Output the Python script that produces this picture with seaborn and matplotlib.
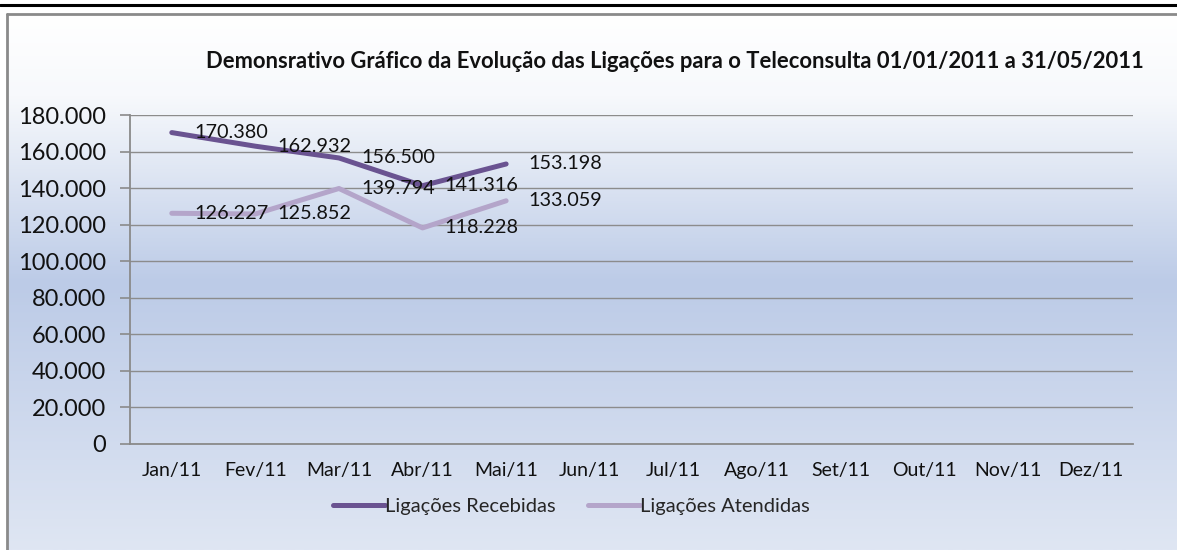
import numpy as np
import pandas as pd
import matplotlib.pyplot as plt
import seaborn as sns
from matplotlib.colors import LinearSegmentedColormap
from matplotlib.lines import Line2D

months = ["Jan/11", "Fev/11", "Mar/11", "Abr/11", "Mai/11", "Jun/11",
          "Jul/11", "Ago/11", "Set/11", "Out/11", "Nov/11", "Dez/11"]
recebidas = [170380, 162932, 156500, 141316, 153198]
atendidas = [126227, 125852, 139794, 118228, 133059]
series_names = ["Ligações Recebidas", "Ligações Atendidas"]
yticks = list(range(0, 180001, 20000))
title = "Demonsrativo Gráfico da Evolução das Ligações para o Teleconsulta 01/01/2011 a 31/05/2011"

df = pd.DataFrame({
    "mes": list(range(len(recebidas))) + list(range(len(atendidas))),
    "valor": recebidas + atendidas,
    "serie": [series_names[0]] * len(recebidas) + [series_names[1]] * len(atendidas),
})

def fmt(v):
    return f"{v:,}".replace(",", ".")

sns.set_theme(style="white")
plt.rcParams["font.family"] = ["Lato", "DejaVu Sans"]
txt = "#111111"

W, H = 1177, 550
fig = plt.figure(figsize=(W / 100, H / 100), dpi=100)

# gradient background of the chart box
bg = fig.add_axes([8 / W, 0, 1 - 8 / W, 535 / H])
grad = LinearSegmentedColormap.from_list(
    "bg", [(0, "#ffffff"), (0.15, "#f7f9fc"), (0.5, "#bccbe7"), (1, "#dfe6f3")])
bg.imshow(np.linspace(0, 1, 256).reshape(-1, 1), aspect="auto", cmap=grad,
          extent=[0, 1, 0, 1])
bg.axis("off")

# borders
fig.add_artist(Line2D([0, 1], [1 - 5 / H, 1 - 5 / H], color="black", lw=2.2,
                      transform=fig.transFigure))
fig.add_artist(Line2D([7 / W, 1], [1 - 14 / H, 1 - 14 / H], color="#8a8a8a", lw=2,
                      transform=fig.transFigure))
fig.add_artist(Line2D([7 / W, 7 / W], [0, 1 - 14 / H], color="#8a8a8a", lw=2,
                      transform=fig.transFigure))

ax = fig.add_axes([130 / W, 1 - 444 / H, 1003 / W, 329 / H])
ax.patch.set_alpha(0)

dark, light = "#6a5391", "#b4a5ca"
sns.lineplot(data=df, x="mes", y="valor", hue="serie", palette=[dark, light],
             lw=3.6, ax=ax, solid_capstyle="round")

for vals in (recebidas, atendidas):
    for i, v in enumerate(vals):
        ax.annotate(fmt(v), (i, v), xytext=(16, 0), textcoords="offset points",
                    ha="left", va="center", fontsize=14.3, color=txt)

ax.set_xlim(-0.5, 11.5)
ax.set_ylim(0, 180000)
ax.set_yticks(yticks)
ax.set_yticklabels([fmt(v) for v in yticks], fontsize=17, color=txt)
ax.set_xticks(range(len(months)))
ax.set_xticklabels(months, fontsize=14, color=txt)
ax.set_xticks(np.arange(-0.5, 12, 1), minor=True)
ax.tick_params(axis="x", which="major", length=0, pad=13)
ax.tick_params(axis="x", which="minor", length=5, width=1.2, color="#8a8a8a", direction="out")
ax.tick_params(axis="y", length=7, width=1.2, color="#8a8a8a", direction="out", pad=10, left=True)
ax.yaxis.grid(True, color="#8c8c8c", lw=1)
ax.set_axisbelow(True)
ax.set_xlabel("")
ax.set_ylabel("")
for s in ["top", "right"]:
    ax.spines[s].set_visible(False)
for s in ["left", "bottom"]:
    ax.spines[s].set_color("#8a8a8a")
    ax.spines[s].set_linewidth(1.3)

sns.move_legend(ax, "center", bbox_to_anchor=(0.44, -0.19), ncol=2, frameon=False,
                title=None, fontsize=14.5, handlelength=2.6, handletextpad=0.0,
                columnspacing=1.6)

fig.text(675 / W, 1 - 61 / H, title, ha="center", va="center",
         fontsize=15.8, fontweight="bold", color=txt)

fig.savefig("out.png", dpi=100)
